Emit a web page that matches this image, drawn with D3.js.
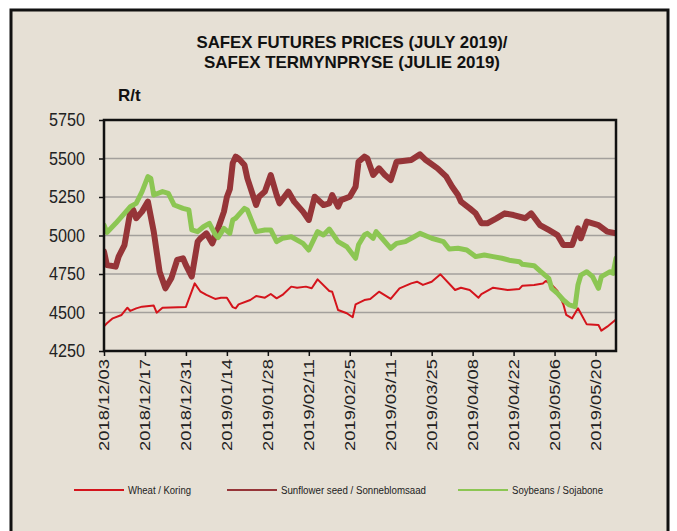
<!DOCTYPE html>
<html><head><meta charset="utf-8">
<script src="https://cdn.jsdelivr.net/npm/d3@7"></script>
<style>html,body{margin:0;padding:0;background:#fff;}svg{display:block;}</style>
</head><body>
<svg id="c" width="677" height="531"></svg>
<script>
const titleLines = ["SAFEX FUTURES PRICES (JULY 2019)/", "SAFEX TERMYNPRYSE (JULIE 2019)"];
const yUnit = "R/t";
const yTicks = [4250, 4500, 4750, 5000, 5250, 5500, 5750];
const xTickLabels = ["2018/12/03","2018/12/17","2018/12/31","2019/01/14","2019/01/28","2019/02/11","2019/02/25","2019/03/11","2019/03/25","2019/04/08","2019/04/22","2019/05/06","2019/05/20"];
const xDomain = ["2018-12-03", "2019-05-27"];
const seriesNames = ["Wheat / Koring", "Sunflower seed / Sonneblomsaad", "Soybeans / Sojabone"];

const wheat = [["2018-12-03",4410],["2018-12-04",4430],["2018-12-06",4462],["2018-12-09",4484],["2018-12-11",4531],["2018-12-12",4510],["2018-12-14",4527],["2018-12-16",4538],["2018-12-20",4545],["2018-12-21",4499],["2018-12-23",4531],["2018-12-31",4536],["2019-01-03",4689],["2019-01-05",4635],["2019-01-07",4614],["2019-01-10",4588],["2019-01-12",4596],["2019-01-14",4596],["2019-01-16",4535],["2019-01-17",4527],["2019-01-18",4553],["2019-01-22",4581],["2019-01-24",4607],["2019-01-27",4596],["2019-01-29",4620],["2019-01-31",4592],["2019-02-02",4614],["2019-02-05",4668],["2019-02-07",4661],["2019-02-10",4668],["2019-02-12",4657],["2019-02-14",4715],["2019-02-18",4640],["2019-02-19",4635],["2019-02-21",4516],["2019-02-24",4495],["2019-02-26",4469],["2019-02-27",4553],["2019-03-02",4581],["2019-03-04",4588],["2019-03-07",4635],["2019-03-11",4588],["2019-03-14",4657],["2019-03-18",4689],["2019-03-20",4700],["2019-03-22",4679],["2019-03-25",4700],["2019-03-28",4748],["2019-04-02",4646],["2019-04-04",4661],["2019-04-07",4646],["2019-04-10",4596],["2019-04-11",4620],["2019-04-15",4661],["2019-04-20",4646],["2019-04-24",4653],["2019-04-25",4674],["2019-04-29",4679],["2019-05-02",4689],["2019-05-03",4705],["2019-05-05",4680],["2019-05-07",4640],["2019-05-09",4553],["2019-05-10",4484],["2019-05-12",4462],["2019-05-14",4527],["2019-05-17",4423],["2019-05-21",4419],["2019-05-22",4382],["2019-05-24",4408],["2019-05-27",4455]];

const sunflower = [["2018-12-03",4895],["2018-12-04",4808],["2018-12-07",4798],["2018-12-08",4863],["2018-12-10",4938],["2018-12-12",5155],["2018-12-13",5166],["2018-12-14",5112],["2018-12-16",5155],["2018-12-18",5220],["2018-12-20",5025],["2018-12-22",4765],["2018-12-24",4657],["2018-12-26",4722],["2018-12-28",4841],["2018-12-30",4852],["2018-12-31",4808],["2019-01-02",4733],["2019-01-04",4960],["2019-01-05",4982],["2019-01-07",5014],["2019-01-09",4949],["2019-01-11",5046],["2019-01-13",5155],["2019-01-14",5250],["2019-01-15",5300],["2019-01-16",5470],["2019-01-17",5512],["2019-01-18",5500],["2019-01-20",5458],["2019-01-21",5371],["2019-01-24",5198],["2019-01-25",5252],["2019-01-27",5285],["2019-01-29",5393],["2019-01-31",5263],["2019-02-01",5209],["2019-02-04",5285],["2019-02-06",5220],["2019-02-09",5155],["2019-02-11",5101],["2019-02-13",5252],["2019-02-16",5198],["2019-02-18",5209],["2019-02-19",5263],["2019-02-21",5187],["2019-02-22",5230],["2019-02-25",5252],["2019-02-27",5317],["2019-02-28",5479],["2019-03-02",5512],["2019-03-03",5501],["2019-03-05",5393],["2019-03-07",5436],["2019-03-09",5393],["2019-03-11",5360],["2019-03-13",5479],["2019-03-18",5490],["2019-03-21",5527],["2019-03-23",5490],["2019-03-27",5436],["2019-03-30",5382],["2019-04-01",5317],["2019-04-03",5263],["2019-04-04",5220],["2019-04-07",5176],["2019-04-09",5144],["2019-04-11",5079],["2019-04-13",5079],["2019-04-16",5110],["2019-04-19",5144],["2019-04-22",5133],["2019-04-26",5112],["2019-04-28",5144],["2019-05-01",5068],["2019-05-04",5036],["2019-05-07",5003],["2019-05-09",4938],["2019-05-12",4938],["2019-05-14",5046],["2019-05-15",4982],["2019-05-17",5090],["2019-05-21",5068],["2019-05-24",5025],["2019-05-27",5014]];

const soybeans = [["2018-12-03",5068],["2018-12-04",5020],["2018-12-07",5079],["2018-12-10",5144],["2018-12-12",5187],["2018-12-14",5209],["2018-12-16",5285],["2018-12-18",5382],["2018-12-19",5371],["2018-12-20",5263],["2018-12-23",5285],["2018-12-25",5274],["2018-12-27",5198],["2018-12-30",5176],["2019-01-01",5166],["2019-01-02",5036],["2019-01-04",5025],["2019-01-06",5057],["2019-01-08",5079],["2019-01-10",5008],["2019-01-11",4986],["2019-01-13",5046],["2019-01-15",5014],["2019-01-16",5101],["2019-01-17",5112],["2019-01-20",5176],["2019-01-21",5166],["2019-01-24",5025],["2019-01-27",5036],["2019-01-29",5036],["2019-01-31",4960],["2019-02-02",4982],["2019-02-05",4992],["2019-02-09",4949],["2019-02-11",4906],["2019-02-14",5025],["2019-02-16",5003],["2019-02-18",5042],["2019-02-21",4960],["2019-02-24",4927],["2019-02-27",4852],["2019-02-28",4940],["2019-03-02",5003],["2019-03-03",5014],["2019-03-05",4982],["2019-03-06",5025],["2019-03-08",4982],["2019-03-11",4917],["2019-03-13",4949],["2019-03-16",4960],["2019-03-19",4992],["2019-03-21",5014],["2019-03-25",4982],["2019-03-29",4960],["2019-03-31",4912],["2019-04-03",4917],["2019-04-06",4906],["2019-04-09",4863],["2019-04-12",4873],["2019-04-15",4863],["2019-04-18",4852],["2019-04-21",4837],["2019-04-24",4830],["2019-04-25",4813],["2019-04-29",4804],["2019-05-01",4770],["2019-05-04",4722],["2019-05-05",4657],["2019-05-07",4624],["2019-05-09",4581],["2019-05-11",4549],["2019-05-13",4538],["2019-05-14",4679],["2019-05-15",4743],["2019-05-17",4765],["2019-05-19",4733],["2019-05-21",4657],["2019-05-22",4733],["2019-05-25",4765],["2019-05-26",4754],["2019-05-27",4852]];

const svg = d3.select("#c");
const W = 677, H = 531;
const plot = {left: 104, right: 616, top: 120, bottom: 351};
const font = "'Liberation Sans Narrow','Arial Narrow','Liberation Sans',Arial,sans-serif";
const parse = d3.utcParse("%Y-%m-%d");
const parseTick = d3.utcParse("%Y/%m/%d");

// outer frame and paper background
svg.append("rect").attr("x", 0).attr("y", 0).attr("width", W).attr("height", H).attr("fill", "#fff");
svg.append("rect").attr("x", 11).attr("y", 10).attr("width", 657).attr("height", H + 20)
  .attr("fill", "#e6e0d5").attr("stroke", "#111").attr("stroke-width", 3);

const x = d3.scaleUtc().domain(xDomain.map(parse)).range([plot.left, plot.right]);
const y = d3.scaleLinear().domain([4250, 5750]).range([plot.bottom, plot.top]);

// title
svg.selectAll("text.title").data(titleLines).join("text")
  .attr("class", "title")
  .attr("x", 352).attr("y", (d, i) => 48 + i * 20)
  .attr("text-anchor", "middle")
  .attr("font-family", font).attr("font-weight", "bold").attr("font-size", 17)
  .attr("textLength", (d, i) => i === 0 ? 311 : 296).attr("lengthAdjust", "spacingAndGlyphs")
  .attr("fill", "#111")
  .text(d => d);

svg.append("text").attr("x", 118).attr("y", 101)
  .attr("font-family", font).attr("font-weight", "bold").attr("font-size", 17)
  .attr("fill", "#111").text(yUnit);

// gridlines
svg.append("g").selectAll("line").data(yTicks.filter(v => v > 4250 && v < 5750)).join("line")
  .attr("x1", plot.left).attr("x2", plot.right)
  .attr("y1", d => y(d)).attr("y2", d => y(d))
  .attr("stroke", "#a3a09c").attr("stroke-width", 1.5);

// y axis
const yAxis = svg.append("g").attr("transform", `translate(${plot.left},0)`)
  .call(d3.axisLeft(y).tickValues(yTicks).tickSize(5).tickPadding(14).tickFormat(d3.format("d")));
yAxis.select(".domain").remove();
yAxis.selectAll("line").attr("stroke", "#111").attr("stroke-width", 1.5);
yAxis.selectAll("text").attr("font-family", font).attr("font-size", 18).attr("fill", "#222")
  .attr("textLength", 36).attr("lengthAdjust", "spacingAndGlyphs");

// x axis
const xTicks = xTickLabels.map(parseTick);
const xAxis = svg.append("g").attr("transform", `translate(0,${plot.bottom})`)
  .call(d3.axisBottom(x).tickValues(xTicks).tickSize(5).tickFormat(d3.utcFormat("%Y/%m/%d")));
xAxis.select(".domain").remove();
xAxis.selectAll("line").attr("stroke", "#111").attr("stroke-width", 1.5);
xAxis.selectAll("text")
  .attr("font-family", font).attr("font-size", 14).attr("fill", "#222")
  .attr("text-anchor", "end").attr("dy", "0.35em")
  .attr("transform", "translate(0,8) rotate(-90)")
  .attr("x", 0).attr("y", 0)
  .attr("textLength", 92).attr("lengthAdjust", "spacingAndGlyphs");

// lines
svg.append("defs").append("clipPath").attr("id", "clip").append("rect")
  .attr("x", plot.left).attr("y", plot.top - 4)
  .attr("width", plot.right - plot.left).attr("height", plot.bottom - plot.top + 4);
const line = d3.line().x(d => x(parse(d[0]))).y(d => y(d[1])).curve(d3.curveLinear);
const series = [
  {name: seriesNames[0], data: wheat, color: "#d4141c", width: 2},
  {name: seriesNames[1], data: sunflower, color: "#963538", width: 6},
  {name: seriesNames[2], data: soybeans, color: "#8cc653", width: 5}
];
const lg = svg.append("g").attr("clip-path", "url(#clip)");
series.forEach(s => {
  lg.append("path").datum(s.data).attr("d", line)
    .attr("fill", "none").attr("stroke", s.color).attr("stroke-width", s.width)
    .attr("stroke-linejoin", "round").attr("stroke-linecap", "round");
});

// plot frame
svg.append("rect").attr("x", plot.left).attr("y", plot.top)
  .attr("width", plot.right - plot.left).attr("height", plot.bottom - plot.top)
  .attr("fill", "none").attr("stroke", "#111").attr("stroke-width", 2.5);

// legend
const legendX = [74, 227, 458];
const legendW = [63, 145, 91];
const leg = svg.append("g");
series.forEach((s, i) => {
  leg.append("line").attr("x1", legendX[i]).attr("x2", legendX[i] + 50)
    .attr("y1", 490).attr("y2", 490).attr("stroke", s.color).attr("stroke-width", 2);
  leg.append("text").attr("x", legendX[i] + 54).attr("y", 493.5)
    .attr("font-family", font).attr("font-size", 10).attr("fill", "#222")
    .attr("textLength", legendW[i]).attr("lengthAdjust", "spacingAndGlyphs")
    .text(s.name);
});
</script>
</body></html>
